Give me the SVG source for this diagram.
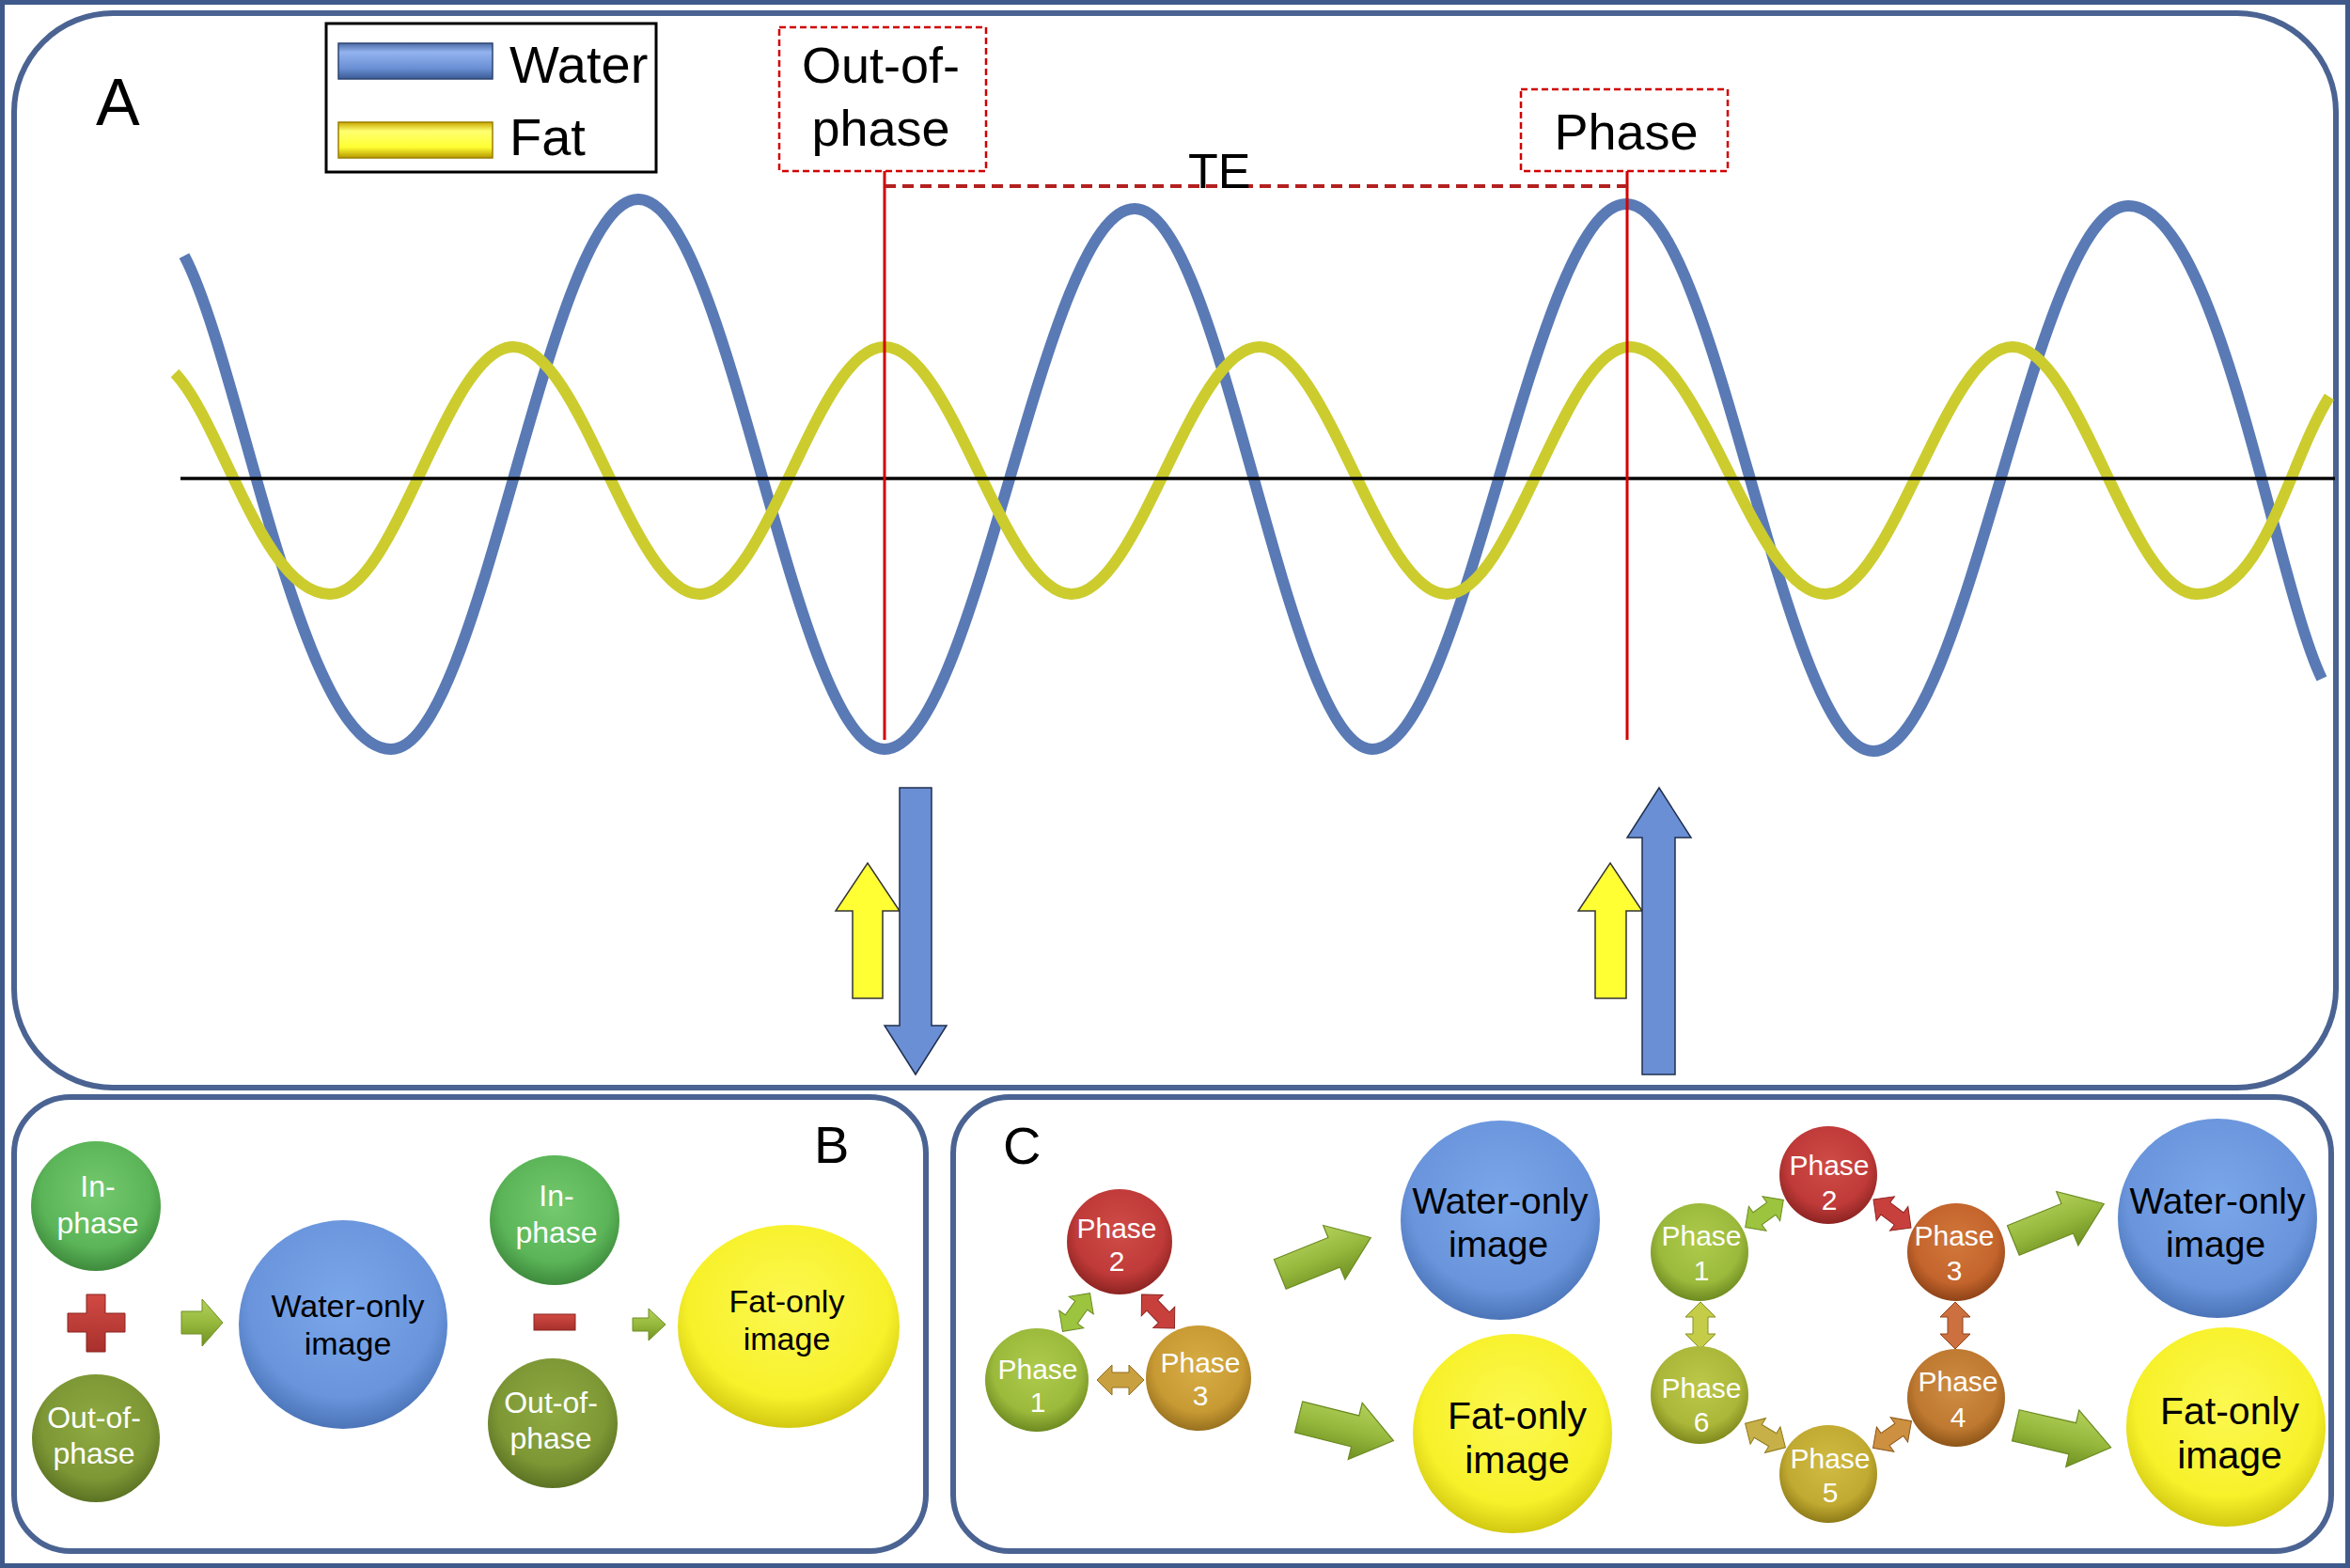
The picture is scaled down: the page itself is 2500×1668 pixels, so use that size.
<svg xmlns="http://www.w3.org/2000/svg" xmlns:xlink="http://www.w3.org/1999/xlink" width="2500" height="1668" viewBox="0 0 2500 1668">
<style>
.t{font-family:"Liberation Sans",Arial,sans-serif;}
.m{text-anchor:middle;}
.w{fill:#ffffff;}
.k{fill:#000000;}
.panel{fill:#ffffff;stroke:#4a6392;stroke-width:6;}
.dbox{fill:none;stroke:#d00000;stroke-width:2.5;stroke-dasharray:7 4;}
</style>
<defs>
<radialGradient id="gGreen" cx="50%" cy="40%" r="60%"><stop offset="0" stop-color="#74ca6e"/><stop offset="0.7" stop-color="#5bb558"/><stop offset="1" stop-color="#3e8a3c"/></radialGradient>
<radialGradient id="gOlive" cx="50%" cy="40%" r="60%"><stop offset="0" stop-color="#8fab42"/><stop offset="0.7" stop-color="#7d9735"/><stop offset="1" stop-color="#5b7223"/></radialGradient>
<radialGradient id="gBlue" cx="50%" cy="40%" r="60%"><stop offset="0" stop-color="#7aa6ea"/><stop offset="0.75" stop-color="#6a95dc"/><stop offset="1" stop-color="#4b74b8"/></radialGradient>
<radialGradient id="gYellow" cx="50%" cy="40%" r="60%"><stop offset="0" stop-color="#fcf850"/><stop offset="0.75" stop-color="#f7f12a"/><stop offset="1" stop-color="#d2c912"/></radialGradient>
<radialGradient id="gRed" cx="50%" cy="40%" r="60%"><stop offset="0" stop-color="#cf4c48"/><stop offset="0.7" stop-color="#bf3a38"/><stop offset="1" stop-color="#8c2422"/></radialGradient>
<radialGradient id="gYG" cx="50%" cy="40%" r="60%"><stop offset="0" stop-color="#aecb4c"/><stop offset="0.7" stop-color="#9bb93b"/><stop offset="1" stop-color="#6d8a21"/></radialGradient>
<radialGradient id="gGold" cx="50%" cy="40%" r="60%"><stop offset="0" stop-color="#d8ad46"/><stop offset="0.7" stop-color="#c89a33"/><stop offset="1" stop-color="#98711f"/></radialGradient>
<radialGradient id="gOrange" cx="50%" cy="40%" r="60%"><stop offset="0" stop-color="#d2783c"/><stop offset="0.7" stop-color="#c3642c"/><stop offset="1" stop-color="#8e4318"/></radialGradient>
<radialGradient id="gOrange2" cx="50%" cy="40%" r="60%"><stop offset="0" stop-color="#ce8c42"/><stop offset="0.7" stop-color="#bf7931"/><stop offset="1" stop-color="#8d5518"/></radialGradient>
<radialGradient id="gGold2" cx="50%" cy="40%" r="60%"><stop offset="0" stop-color="#d0bb44"/><stop offset="0.7" stop-color="#c1aa31"/><stop offset="1" stop-color="#8e7b18"/></radialGradient>
<radialGradient id="gYG2" cx="50%" cy="40%" r="60%"><stop offset="0" stop-color="#bcc84a"/><stop offset="0.7" stop-color="#abb739"/><stop offset="1" stop-color="#7f881d"/></radialGradient>
<linearGradient id="swBlue" x1="0" y1="0" x2="0" y2="1"><stop offset="0" stop-color="#4c6ca6"/><stop offset="0.25" stop-color="#92b3ee"/><stop offset="0.7" stop-color="#6a8fd4"/><stop offset="1" stop-color="#3c5b95"/></linearGradient>
<linearGradient id="swYel" x1="0" y1="0" x2="0" y2="1"><stop offset="0" stop-color="#c9a700"/><stop offset="0.25" stop-color="#ffff70"/><stop offset="0.7" stop-color="#ffff33"/><stop offset="1" stop-color="#b59700"/></linearGradient>
<linearGradient id="gArrow" x1="0" y1="0" x2="0" y2="1"><stop offset="0" stop-color="#b3d05a"/><stop offset="0.5" stop-color="#96b93d"/><stop offset="1" stop-color="#6f9022"/></linearGradient>
<linearGradient id="gPlus" x1="0" y1="0" x2="0" y2="1"><stop offset="0" stop-color="#d24a44"/><stop offset="1" stop-color="#a8302c"/></linearGradient>
<path id="dbl" d="M-25,0 L-9,-16 L-9,-8 L9,-8 L9,-16 L25,0 L9,16 L9,8 L-9,8 L-9,16 Z"/>
<path id="blk" d="M-52,-17 H10 V-31 L52,0 L10,31 V17 H-52 Z"/>
</defs>

<rect x="0" y="0" width="2500" height="1668" fill="#ffffff"/>
<rect x="2.5" y="2.5" width="2495" height="1663" fill="none" stroke="#3f5a8a" stroke-width="5"/>

<g id="panels">
<rect class="panel" x="15" y="14" width="2470" height="1143" rx="105" ry="105"/>
<rect class="panel" x="15" y="1167" width="970" height="483" rx="60" ry="60"/>
<rect class="panel" x="1014" y="1167" width="1466" height="483" rx="60" ry="60"/>
</g>

<g id="panelA">
<text class="t k" x="102" y="133" font-size="70">A</text>
<g id="legend">
<rect x="347" y="25" width="351" height="158" fill="#ffffff" stroke="#000000" stroke-width="3"/>
<rect x="360" y="46" width="164" height="38" fill="url(#swBlue)" stroke="#2d4470" stroke-width="1.5"/>
<rect x="360" y="130" width="164" height="38" fill="url(#swYel)" stroke="#9a7f00" stroke-width="1.5"/>
<text class="t k" x="542" y="88" font-size="56">Water</text>
<text class="t k" x="542" y="165" font-size="56">Fat</text>
</g>
<g id="waves">
<path d="M196,272 C256,386 320,797 416,797 C512,797 583,212 679,212 C775,212 845,797 941,797 C1038,797 1110,222 1207,222 C1300,222 1368,797 1460,797 C1558,797 1632,217 1730,217 C1826,217 1897,799 1993,799 C2092,799 2165,219 2264,219 C2360,219 2420,619 2470,722" fill="none" stroke="#5a7ab5" stroke-width="12"/>
<path d="M186,397 C236,449 280,632 351,632 C422,632 475,369 546,369 C618,369 672,632 744,632 C816,632 869,369 941,369 C1013,369 1068,632 1140,632 C1212,632 1267,369 1340,369 C1412,369 1467,632 1539,632 C1610,632 1663,369 1734,369 C1810,369 1866,632 1942,632 C2014,632 2069,369 2141,369 C2212,369 2266,632 2337,632 C2409,632 2433,495 2478,422" fill="none" stroke="#cccc2e" stroke-width="12"/>
<line x1="192" y1="509" x2="2484" y2="509" stroke="#000000" stroke-width="3.5"/>
</g>
<g id="markers">
<line x1="941" y1="182" x2="941" y2="787" stroke="#d40000" stroke-width="3"/>
<line x1="1731" y1="182" x2="1731" y2="787" stroke="#d40000" stroke-width="3"/>
<line x1="941" y1="198" x2="1731" y2="198" stroke="#b42020" stroke-width="4" stroke-dasharray="12 7"/>
<rect class="dbox" x="829" y="29" width="220" height="153"/>
<rect class="dbox" x="1618" y="95" width="220" height="87"/>
<text class="t k m" x="937" y="88" font-size="54">Out-of-</text>
<text class="t k m" x="937" y="155" font-size="54">phase</text>
<text class="t k m" x="1730" y="159" font-size="54">Phase</text>
<text class="t k" x="1264" y="200" font-size="52">TE</text>
</g>
<g id="vectors">
<path d="M907,1062 V969 H889 L923,918 L957,969 H939 V1062 Z" fill="#ffff33" stroke="#333333" stroke-width="1.5"/>
<path d="M957,838 H991 V1091 H1007 L974,1143 L941,1091 H957 Z" fill="#6b8fd5" stroke="#1f2f4f" stroke-width="1.5"/>
<path d="M1697,1062 V969 H1679 L1713,918 L1747,969 H1730 V1062 Z" fill="#ffff33" stroke="#333333" stroke-width="1.5"/>
<path d="M1747,1143 V891 H1731 L1765,838 L1799,891 H1782 V1143 Z" fill="#6b8fd5" stroke="#1f2f4f" stroke-width="1.5"/>
</g>
</g>

<text class="t k" x="866" y="1237" font-size="56">B</text>
<text class="t k" x="1067" y="1238" font-size="56">C</text>

<g id="connectors">
<path d="M92,1377 H112 V1397 H133 V1417 H112 V1438 H92 V1417 H72 V1397 H92 Z" fill="url(#gPlus)" stroke="#8a2420" stroke-width="1"/>
<rect x="568" y="1398" width="44" height="17" fill="url(#gPlus)" stroke="#8a2420" stroke-width="1"/>
<path d="M193,1395 H215 V1382 L237,1407 L215,1432 V1419 H193 Z" fill="url(#gArrow)" stroke="#6f8f22" stroke-width="1"/>
<path d="M673,1402 H690 V1392 L708,1409 L690,1426 V1416 H673 Z" fill="url(#gArrow)" stroke="#6f8f22" stroke-width="1"/>
<use xlink:href="#blk" href="#blk" transform="translate(1410,1336) rotate(-22)" fill="url(#gArrow)" stroke="#6a8a20" stroke-width="1.2"/>
<use xlink:href="#blk" href="#blk" transform="translate(1432,1520) rotate(14)" fill="url(#gArrow)" stroke="#6a8a20" stroke-width="1.2"/>
<use xlink:href="#blk" href="#blk" transform="translate(2190,1300) rotate(-22)" fill="url(#gArrow)" stroke="#6a8a20" stroke-width="1.2"/>
<use xlink:href="#blk" href="#blk" transform="translate(2195,1528) rotate(13)" fill="url(#gArrow)" stroke="#6a8a20" stroke-width="1.2"/>
<use xlink:href="#dbl" href="#dbl" transform="translate(1145,1396) rotate(-54.5)" fill="#9cc43e" stroke="#6d8c22" stroke-width="1"/>
<use xlink:href="#dbl" href="#dbl" transform="translate(1232,1395) rotate(45.7)" fill="#c8403c" stroke="#8c2422" stroke-width="1"/>
<use xlink:href="#dbl" href="#dbl" transform="translate(1192,1468)" fill="#c8a040" stroke="#8f6f1c" stroke-width="1"/>
<use xlink:href="#dbl" href="#dbl" transform="translate(1877,1291) rotate(-35.7)" fill="#9cc43e" stroke="#6d8c22" stroke-width="1"/>
<use xlink:href="#dbl" href="#dbl" transform="translate(2013,1291) rotate(36.9)" fill="#c8403c" stroke="#8c2422" stroke-width="1"/>
<use xlink:href="#dbl" href="#dbl" transform="translate(1809,1410) rotate(90)" fill="#c4cc48" stroke="#85901e" stroke-width="1"/>
<use xlink:href="#dbl" href="#dbl" transform="translate(2080,1410) rotate(90)" fill="#cc7040" stroke="#8e4318" stroke-width="1"/>
<use xlink:href="#dbl" href="#dbl" transform="translate(1878,1527) rotate(30.8)" fill="#c8b048" stroke="#8e7b18" stroke-width="1"/>
<use xlink:href="#dbl" href="#dbl" transform="translate(2013,1526) rotate(-35)" fill="#cc9040" stroke="#8d5518" stroke-width="1"/>
</g>

<g id="b-inphase1"><circle cx="102" cy="1283" r="69" fill="url(#gGreen)"/><text class="t w m" x="104" y="1273" font-size="32">In-</text><text class="t w m" x="104" y="1312" font-size="32">phase</text></g>
<g id="b-outphase1"><circle cx="102" cy="1530" r="68" fill="url(#gOlive)"/><text class="t w m" x="100" y="1519" font-size="32">Out-of-</text><text class="t w m" x="100" y="1557" font-size="32">phase</text></g>
<g id="b-water"><circle cx="365" cy="1409" r="111" fill="url(#gBlue)"/><text class="t k m" x="370" y="1401" font-size="34">Water-only</text><text class="t k m" x="370" y="1441" font-size="34">image</text></g>
<g id="b-inphase2"><circle cx="590" cy="1298" r="69" fill="url(#gGreen)"/><text class="t w m" x="592" y="1283" font-size="32">In-</text><text class="t w m" x="592" y="1322" font-size="32">phase</text></g>
<g id="b-outphase2"><circle cx="588" cy="1514" r="69" fill="url(#gOlive)"/><text class="t w m" x="586" y="1503" font-size="32">Out-of-</text><text class="t w m" x="586" y="1541" font-size="32">phase</text></g>
<g id="b-fat"><ellipse cx="839" cy="1411" rx="118" ry="108" fill="url(#gYellow)"/><text class="t k m" x="837" y="1396" font-size="34">Fat-only</text><text class="t k m" x="837" y="1436" font-size="34">image</text></g>

<g id="c3-phase2"><circle cx="1191" cy="1321" r="56" fill="url(#gRed)"/><text class="t w m" x="1188" y="1317" font-size="30">Phase</text><text class="t w m" x="1188" y="1352" font-size="30">2</text></g>
<g id="c3-phase1"><circle cx="1103" cy="1468" r="55" fill="url(#gYG)"/><text class="t w m" x="1104" y="1467" font-size="30">Phase</text><text class="t w m" x="1104" y="1502" font-size="30">1</text></g>
<g id="c3-phase3"><circle cx="1275" cy="1466" r="56" fill="url(#gGold)"/><text class="t w m" x="1277" y="1460" font-size="30">Phase</text><text class="t w m" x="1277" y="1495" font-size="30">3</text></g>
<g id="c-water1"><circle cx="1596" cy="1298" r="106" fill="url(#gBlue)"/><text class="t k m" x="1596" y="1291" font-size="39">Water-only</text><text class="t k m" x="1594" y="1337" font-size="39">image</text></g>
<g id="c-fat1"><circle cx="1609" cy="1525" r="106" fill="url(#gYellow)"/><text class="t k m" x="1614" y="1520" font-size="41">Fat-only</text><text class="t k m" x="1614" y="1567" font-size="41">image</text></g>

<g id="c6-phase2"><circle cx="1945" cy="1250" r="52" fill="url(#gRed)"/><text class="t w m" x="1946" y="1250" font-size="30">Phase</text><text class="t w m" x="1946" y="1287" font-size="30">2</text></g>
<g id="c6-phase1"><circle cx="1808" cy="1332" r="52" fill="url(#gYG)"/><text class="t w m" x="1810" y="1325" font-size="30">Phase</text><text class="t w m" x="1810" y="1362" font-size="30">1</text></g>
<g id="c6-phase3"><circle cx="2081" cy="1332" r="52" fill="url(#gOrange)"/><text class="t w m" x="2079" y="1325" font-size="30">Phase</text><text class="t w m" x="2079" y="1362" font-size="30">3</text></g>
<g id="c6-phase6"><circle cx="1808" cy="1484" r="52" fill="url(#gYG2)"/><text class="t w m" x="1810" y="1487" font-size="30">Phase</text><text class="t w m" x="1810" y="1523" font-size="30">6</text></g>
<g id="c6-phase4"><circle cx="2081" cy="1487" r="52" fill="url(#gOrange2)"/><text class="t w m" x="2083" y="1480" font-size="30">Phase</text><text class="t w m" x="2083" y="1518" font-size="30">4</text></g>
<g id="c6-phase5"><circle cx="1945" cy="1568" r="52" fill="url(#gGold2)"/><text class="t w m" x="1947" y="1562" font-size="30">Phase</text><text class="t w m" x="1947" y="1598" font-size="30">5</text></g>
<g id="c-water2"><circle cx="2359" cy="1296" r="106" fill="url(#gBlue)"/><text class="t k m" x="2359" y="1291" font-size="39">Water-only</text><text class="t k m" x="2357" y="1337" font-size="39">image</text></g>
<g id="c-fat2"><circle cx="2368" cy="1518" r="106" fill="url(#gYellow)"/><text class="t k m" x="2372" y="1515" font-size="41">Fat-only</text><text class="t k m" x="2372" y="1562" font-size="41">image</text></g>
</svg>
